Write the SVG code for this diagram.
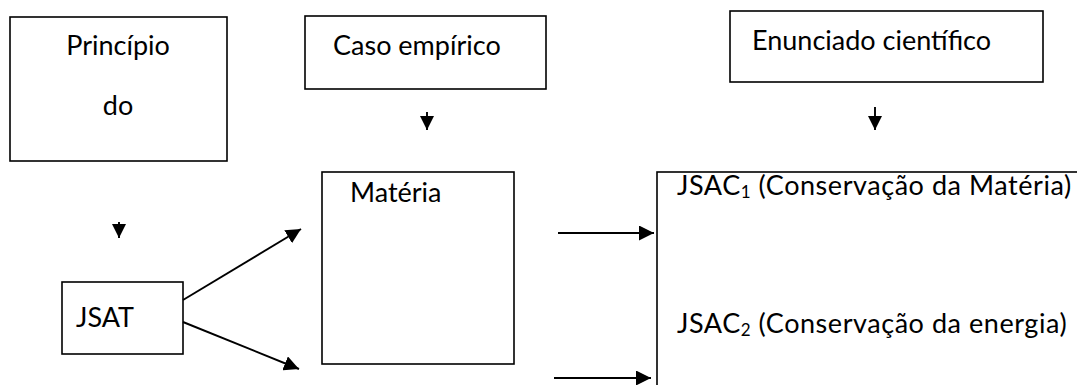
<svg xmlns="http://www.w3.org/2000/svg" width="1077" height="385" viewBox="0 0 1077 385">
<style>
.box{fill:#fff;stroke:#000;stroke-width:1.6}
.t{font-family:Lato,"Open Sans","Liberation Sans",sans-serif;font-size:27px;fill:#000}
.w{letter-spacing:0.55px}
.c{stroke:#000;stroke-width:1.9;fill:none}
</style>
<defs>
<marker id="ah" viewBox="0 0 15 15" refX="15" refY="7.5" markerWidth="15" markerHeight="15" markerUnits="userSpaceOnUse" orient="auto">
<path d="M0,0 L15,7.5 L0,15 z" fill="#000"/>
</marker>
<marker id="ahs" viewBox="0 0 14 14" refX="14" refY="7" markerWidth="14" markerHeight="14" markerUnits="userSpaceOnUse" orient="auto">
<path d="M0,0 L14,7 L0,14 z" fill="#000"/>
</marker>
</defs>
<rect width="1077" height="385" fill="#fff"/>
<g id="principio">
<rect class="box" x="10" y="17" width="217" height="144"/>
<text class="t" x="118" y="55" text-anchor="middle">Princípio</text>
<text class="t" x="118" y="115" text-anchor="middle">do</text>
</g>
<g id="caso">
<rect class="box" x="305" y="16" width="241" height="73"/>
<text class="t" x="333" y="55">Caso empírico</text>
</g>
<g id="enunciado">
<rect class="box" x="730" y="11" width="313" height="71"/>
<text class="t" x="752" y="50">Enunciado científico</text>
</g>
<g id="jsat">
<rect class="box" x="62" y="282" width="121" height="72"/>
<text class="t" x="76" y="327">JSAT</text>
</g>
<g id="materia">
<rect class="box" x="322" y="172" width="192" height="192"/>
<text class="t" x="350" y="202">Matéria</text>
</g>
<g id="jsac">
<rect class="box" x="657" y="172" width="440" height="240"/>
<text class="t w" x="677" y="195">JSAC<tspan font-size="17" dy="3">1</tspan><tspan dy="-3"> (Conservação da Matéria)</tspan></text>
<text class="t w" x="677" y="333">JSAC<tspan font-size="17" dy="3">2</tspan><tspan dy="-3"> (Conservação da energia)</tspan></text>
</g>
<g id="connectors">
<line class="c" x1="119" y1="222" x2="119" y2="238" marker-end="url(#ahs)"/>
<line class="c" x1="427" y1="112" x2="427" y2="130" marker-end="url(#ahs)"/>
<line class="c" x1="875" y1="107" x2="875" y2="130" marker-end="url(#ahs)"/>
<line class="c" x1="183" y1="300" x2="301" y2="229" marker-end="url(#ah)"/>
<line class="c" x1="183" y1="322" x2="299" y2="369" marker-end="url(#ah)"/>
<line class="c" x1="558" y1="233" x2="654" y2="233" marker-end="url(#ah)"/>
<line class="c" x1="554" y1="378" x2="651" y2="378" marker-end="url(#ah)"/>
</g>
</svg>
